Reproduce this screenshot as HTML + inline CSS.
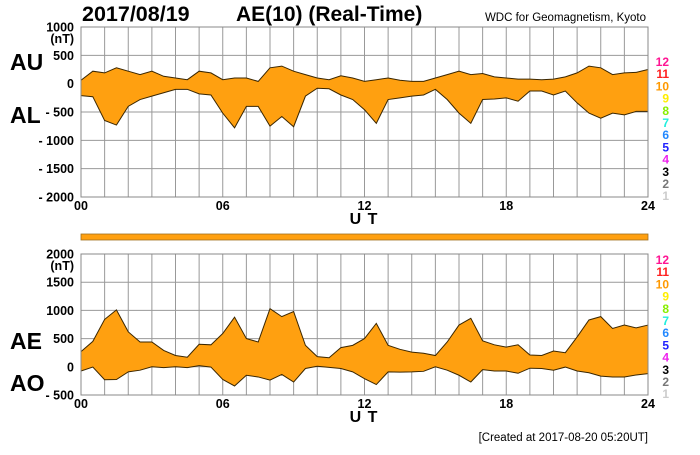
<!DOCTYPE html>
<html><head><meta charset="utf-8"><style>
body{margin:0;background:#fff;width:700px;height:450px;overflow:hidden;font-family:"Liberation Sans",Arial,sans-serif}
svg text{font-family:"Liberation Sans",Arial,sans-serif}
</style></head><body>
<svg id="c" width="700" height="450" viewBox="0 0 700 450"></svg>
<script>
const hours = [0,0.5,1,1.5,2,2.5,3,3.5,4,4.5,5,5.5,6,6.5,7,7.5,8,8.5,9,9.5,10,10.5,11,11.5,12,12.5,13,13.5,14,14.5,15,15.5,16,16.5,17,17.5,18,18.5,19,19.5,20,20.5,21,21.5,22,22.5,23,23.5,24];
const auValues = [60,220,190,280,220,160,220,130,100,70,220,190,70,100,100,40,280,310,220,160,100,70,140,100,40,70,100,60,40,40,100,160,220,160,180,120,100,80,80,70,80,120,190,310,280,160,190,200,250];
const alValues = [-210,-230,-650,-730,-400,-280,-220,-160,-100,-100,-180,-200,-520,-780,-400,-400,-750,-580,-760,-220,-80,-90,-200,-280,-460,-700,-280,-250,-220,-200,-100,-280,-520,-700,-280,-270,-250,-310,-130,-130,-200,-130,-340,-520,-610,-520,-550,-490,-490];
const aeValues = [270,450,840,1010,620,440,440,290,200,170,400,390,590,880,500,440,1030,890,980,380,180,160,340,380,500,770,380,310,260,240,200,440,740,860,460,390,350,390,210,200,280,250,530,830,890,680,740,690,740];
const aoValues = [-75,-5,-230,-225,-90,-60,0,-15,0,-15,20,-5,-225,-340,-150,-180,-235,-135,-270,-30,10,-10,-30,-90,-210,-315,-90,-95,-90,-80,0,-60,-150,-270,-50,-75,-75,-115,-25,-30,-60,-5,-75,-105,-165,-180,-180,-145,-120];
const topTicks = [1000,500,0,-500,-1000,-1500,-2000];
const topTickLabels = ["1000","500","0","- 500","- 1000","- 1500","- 2000"];
const botTicks = [2000,1500,1000,500,0,-500];
const botTickLabels = ["2000","1500","1000","500","0","- 500"];
const xTicks = [0,6,12,18,24];
const xTickLabels = ["00","06","12","18","24"];
const legendLabels = ["12","11","10","9","8","7","6","5","4","3","2","1"];
const legendColors = ["#ff1493","#ff2020","#ff9900","#ffee00","#88ee00","#22eedd","#2288ff","#2222ff","#ee22ee","#000000","#777777","#cccccc"];

const svg=document.getElementById('c');
const NS='http://www.w3.org/2000/svg';
function mk(tag,attrs,parent){const e=document.createElementNS(NS,tag);for(const k in attrs)e.setAttribute(k,attrs[k]);(parent||svg).appendChild(e);return e;}
function txt(s,attrs){const e=mk('text',attrs);e.textContent=s;return e;}
const X0=81,X1=648;
const xs=h=>X0+(X1-X0)*h/24;

function panel(name,top,bot,vmax,vmin,ticks,labels,upper,lower,lbl1,lbl2,l1y,l2y){
  const ys=v=>top+(vmax-v)*(bot-top)/(vmax-vmin);
  const g=mk('g',{});
  
  
  for(let h=1;h<24;h++){const l=mk('line',{x1:xs(h),x2:xs(h),y1:top,y2:bot,stroke:'#999','stroke-width':1},g);
    }
  ticks.forEach((t,i)=>{
    if(t!==vmax&&t!==vmin){const l=mk('line',{x1:X0,x2:X1,y1:ys(t),y2:ys(t),stroke:'#999','stroke-width':1},g);
      }
    const tl=txt(labels[i],{x:74,y:ys(t)+4.5,'text-anchor':'end','font-size':12.5,'font-weight':'bold'});
    
  });
  const nt=txt('(nT)',{x:74,y:top+16,'text-anchor':'end','font-size':12.5,'font-weight':'bold'});
  
  let up=hours.map((h,i)=>xs(h)+','+ys(upper[i]));
  let lo=hours.map((h,i)=>xs(h)+','+ys(lower[i])).reverse();
  const a=mk('polygon',{points:up.concat(lo).join(' '),fill:'#ffa010',stroke:'none'});
  
  const p1=mk('polyline',{points:up.join(' '),fill:'none',stroke:'#3a2600','stroke-width':1});
  
  const p2=mk('polyline',{points:lo.join(' '),fill:'none',stroke:'#3a2600','stroke-width':1});
  
  const fr=mk('rect',{x:X0,y:top,width:X1-X0,height:bot-top,fill:'none',stroke:'#888','stroke-width':1});
  
  xTicks.forEach((t,i)=>{const e=txt(xTickLabels[i],{x:xs(t),y:bot+13,'text-anchor':'middle','font-size':12.5,'font-weight':'bold'});
    });
  const ut=txt('U T',{x:364,y:bot+27,'text-anchor':'middle','font-size':16,'font-weight':'bold','letter-spacing':1});
  
  const a1=txt(lbl1,{x:10,y:l1y,'font-size':23,'font-weight':'bold'});
  
  const a2=txt(lbl2,{x:10,y:l2y,'font-size':23,'font-weight':'bold'});
  
  legendLabels.forEach((s,i)=>{const e=txt(s,{x:669,y:bot-131+i*12.2,'text-anchor':'end','font-size':12,'font-weight':'bold',fill:legendColors[i]});
    });
}
panel('au-al',27,197,1000,-2000,topTicks,topTickLabels,auValues,alValues,'AU','AL',70,123);
panel('ae-ao',254,395,2000,-500,botTicks,botTickLabels,aeValues,aoValues,'AE','AO',349,391);

const bar=mk('rect',{x:X0,y:234,width:X1-X0,height:6,fill:'#ffa010',stroke:'#a07020','stroke-width':0.8});



const t1=txt('2017/08/19',{x:82,y:21,'font-size':21.5,'font-weight':'bold'});

const t2=txt('AE(10) (Real-Time)',{x:236,y:21,'font-size':21,'font-weight':'bold'});

const t3=txt('WDC for Geomagnetism, Kyoto',{x:646,y:21,'text-anchor':'end','font-size':11.5});

const t4=txt('[Created at 2017-08-20 05:20UT]',{x:648,y:441,'text-anchor':'end','font-size':11.5});

</script>
</body></html>
